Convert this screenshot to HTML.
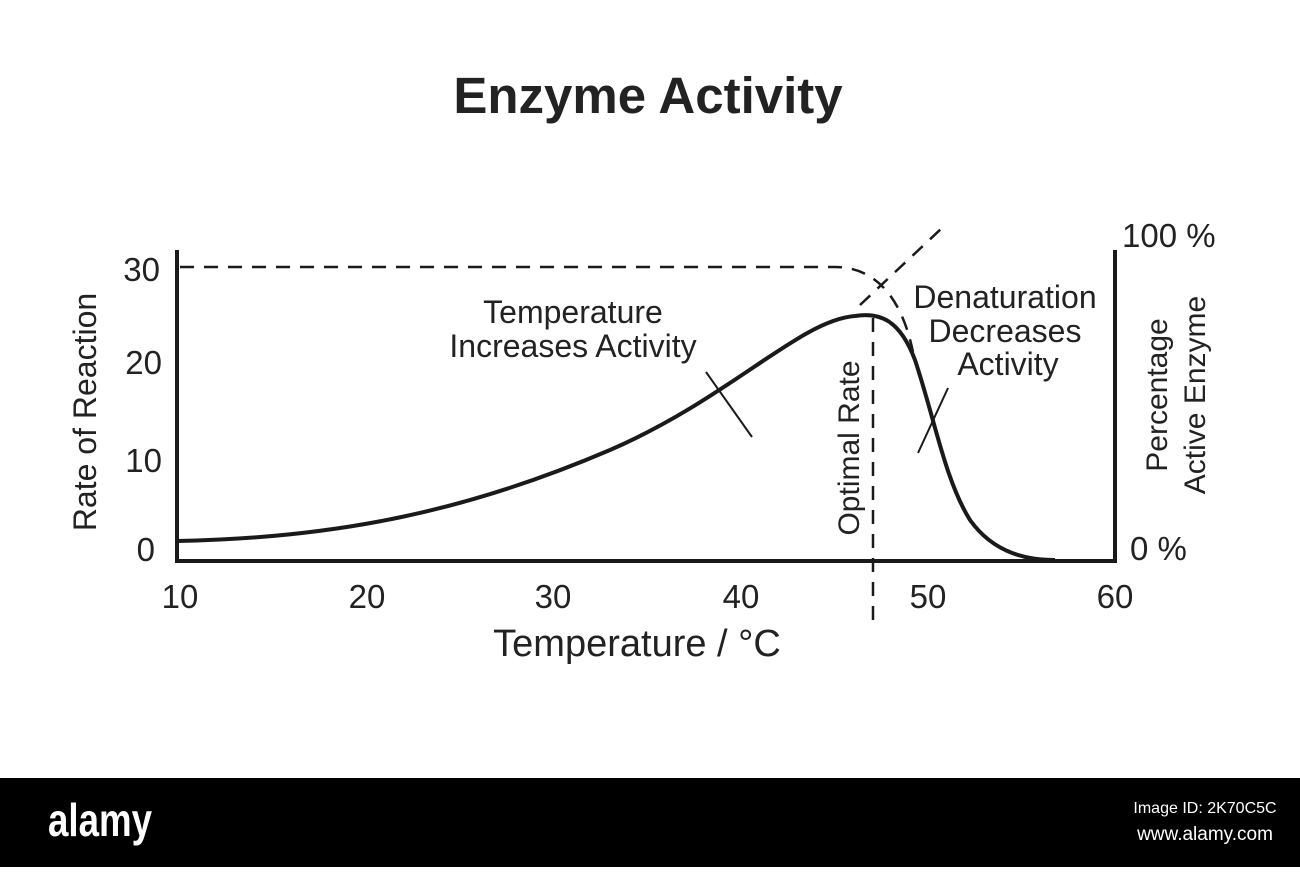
<!DOCTYPE html>
<html><head><style>
body{margin:0;width:1300px;height:867px;background:#fff;overflow:hidden;font-family:"Liberation Sans",sans-serif}
</style></head><body>
<svg width="1300" height="867" viewBox="0 0 1300 867" xmlns="http://www.w3.org/2000/svg" font-family="Liberation Sans, sans-serif" fill="#222">
<text x="648" y="113" text-anchor="middle" font-size="51" font-weight="bold">Enzyme Activity</text>
<g stroke="#1a1a1a" stroke-width="4" fill="none">
<path d="M177 250 V561 H1117"/>
<path d="M1115 250 V561"/>
<path d="M177 541 C340 538 470 510 610 450 C730 398 800 320 855 316 C880 312 900 320 915 360 C935 420 945 480 970 520 C995 555 1030 560 1055 560"/>
</g>
<g stroke="#1a1a1a" stroke-width="2.5" fill="none" stroke-dasharray="14 10">
<path d="M180 267 H835 C870 267 900 290 913 352"/>
<path d="M860 305 L942 228"/>
<path d="M873 318 V628"/>
</g>
<g stroke="#1a1a1a" stroke-width="2" fill="none">
<path d="M706 372 L752 437"/><path d="M948 388 L918 453"/>
</g>
<g font-size="33" text-anchor="middle">
<text x="180" y="608">10</text><text x="367" y="608">20</text><text x="553" y="608">30</text><text x="741" y="608">40</text><text x="928" y="608">50</text><text x="1115" y="608">60</text>
</g>
<g font-size="33" text-anchor="end">
<text x="160" y="281">30</text><text x="162" y="374">20</text><text x="162" y="472">10</text><text x="155" y="561">0</text>
</g>
<text x="1122" y="247" font-size="33">100 %</text>
<text x="1130" y="560" font-size="33">0 %</text>
<text x="637" y="656" font-size="38" text-anchor="middle">Temperature / °C</text>
<text transform="translate(96,412) rotate(-90)" font-size="32" text-anchor="middle">Rate of Reaction</text>
<text transform="translate(1167,395) rotate(-90)" font-size="30" text-anchor="middle">Percentage</text>
<text transform="translate(1205,395) rotate(-90)" font-size="30" text-anchor="middle">Active Enzyme</text>
<text transform="translate(859,448) rotate(-90)" font-size="30" text-anchor="middle">Optimal Rate</text>
<g font-size="32" text-anchor="middle">
<text x="573" y="323">Temperature</text><text x="573" y="357">Increases Activity</text>
<text x="1005" y="308">Denaturation</text><text x="1005" y="342">Decreases</text><text x="1008" y="375">Activity</text>
</g>
<rect x="0" y="778" width="1300" height="89" fill="#000"/>
<text x="48" y="836" font-size="46" font-weight="bold" fill="#fff" textLength="104" lengthAdjust="spacingAndGlyphs">alamy</text>
<text x="1205" y="813" font-size="16" fill="#fff" text-anchor="middle">Image ID: 2K70C5C</text>
<text x="1205" y="840" font-size="19" fill="#fff" text-anchor="middle">www.alamy.com</text>
</svg>
</body></html>
